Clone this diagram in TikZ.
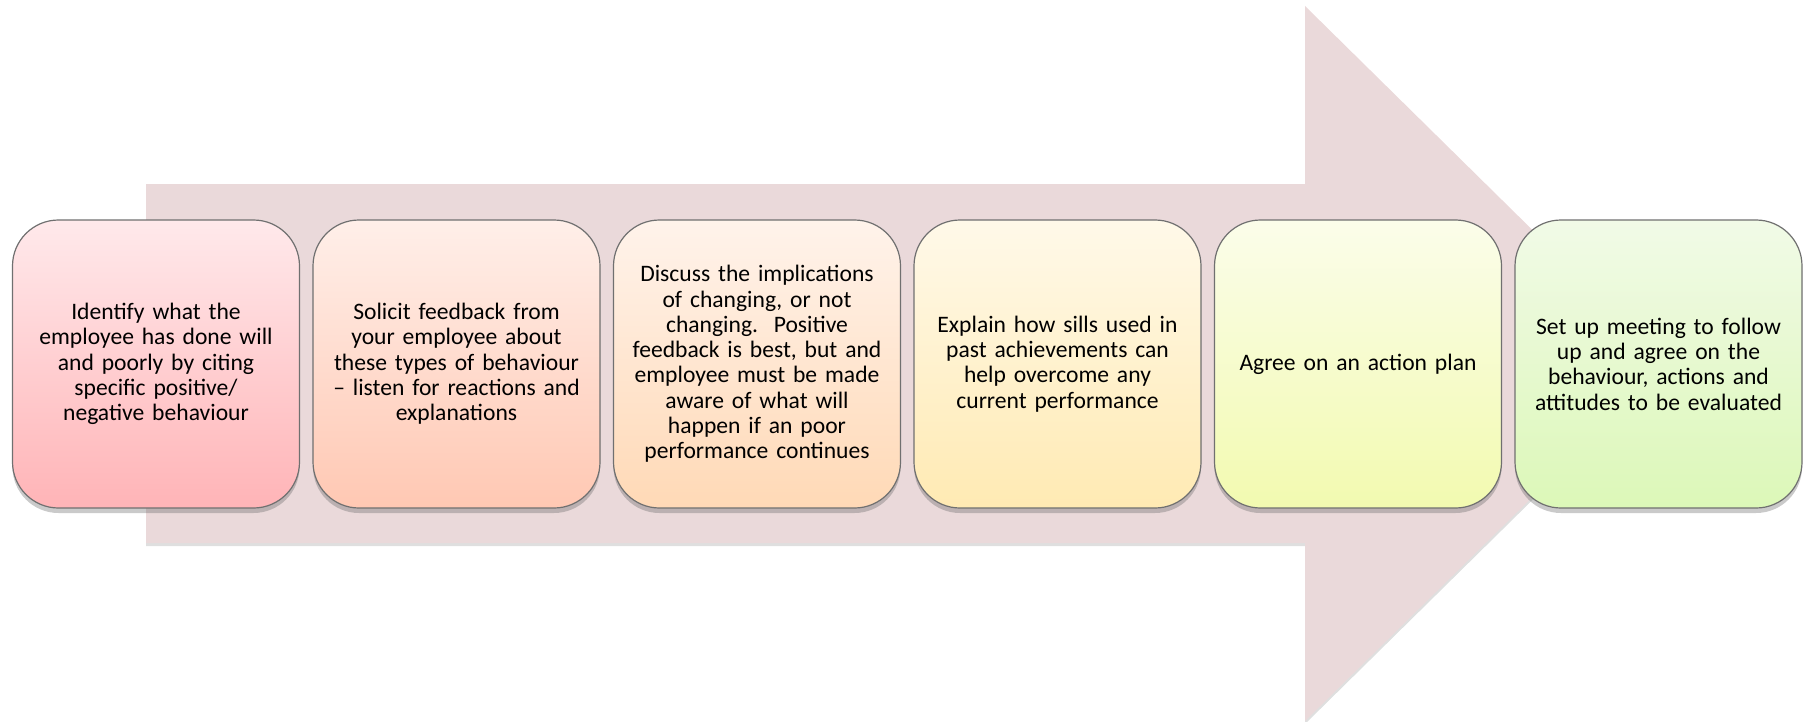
\documentclass[tikz,border=0pt]{standalone}
\usepackage{fontspec}
\setmainfont{Carlito}
\usetikzlibrary{shadows}

\definecolor{arrowpink}{RGB}{234,217,218}
\definecolor{boxline}{RGB}{112,112,112}

\tikzset{
    stepbox/.style={draw=boxline, line width=0.6pt, rounded corners=23pt,
        minimum width=143.5pt, minimum height=144pt, inner sep=0pt,
        align=center, text width=138pt,
        font=\fontsize{11.8pt}{12.65pt}\selectfont,
        drop shadow={shadow xshift=0pt, shadow yshift=-2.5pt, opacity=0.35, fill=black!60}},
}

\begin{document}
\begin{tikzpicture}[x=0.5pt, y=-0.5pt]
        \useasboundingbox (0,0) rectangle (1805,722);

        % big background arrow
        \fill [arrowpink, drop shadow={shadow xshift=0pt, shadow yshift=-1.5pt, opacity=0.25, fill=black!50}]
            (146,184) -- (1305,184) -- (1305,6) -- (1668,363.5)
            -- (1305,721) -- (1305,543) -- (146,543) -- cycle;

        % the six steps
        \node [stepbox, top color={rgb,255:red,255;green,233;blue,235}, bottom color={rgb,255:red,255;green,180;blue,183}]
            (s1) at (156,364) {Identify what the\\employee has done will\\and poorly by citing\\specific positive/\\negative behaviour};
        \node [stepbox, top color={rgb,255:red,255;green,239;blue,233}, bottom color={rgb,255:red,255;green,200;blue,179}]
            (s2) at (456.5,364) {Solicit feedback from\\your employee about\\these types of behaviour\\– listen for reactions and\\explanations};
        \node [stepbox, top color={rgb,255:red,255;green,243;blue,235}, bottom color={rgb,255:red,255;green,217;blue,182}]
            (s3) at (757,364) {Discuss the implications\\of changing, or not\\changing.\ \ Positive\\feedback is best, but and\\employee must be made\\aware of what will\\happen if an poor\\performance continues};
        \node [stepbox, top color={rgb,255:red,255;green,249;blue,233}, bottom color={rgb,255:red,255;green,234;blue,179}]
            (s4) at (1057.5,364) {Explain how sills used in\\past achievements can\\help overcome any\\current performance};
        \node [stepbox, top color={rgb,255:red,251;green,253;blue,234}, bottom color={rgb,255:red,242;green,250;blue,176}]
            (s5) at (1358,364) {Agree on an action plan};
        \node [stepbox, top color={rgb,255:red,241;green,250;blue,231}, bottom color={rgb,255:red,220;green,248;blue,184}]
            (s6) at (1658.5,364) {Set up meeting to follow\\up and agree on the\\behaviour, actions and\\attitudes to be evaluated};
\end{tikzpicture}
\end{document}
